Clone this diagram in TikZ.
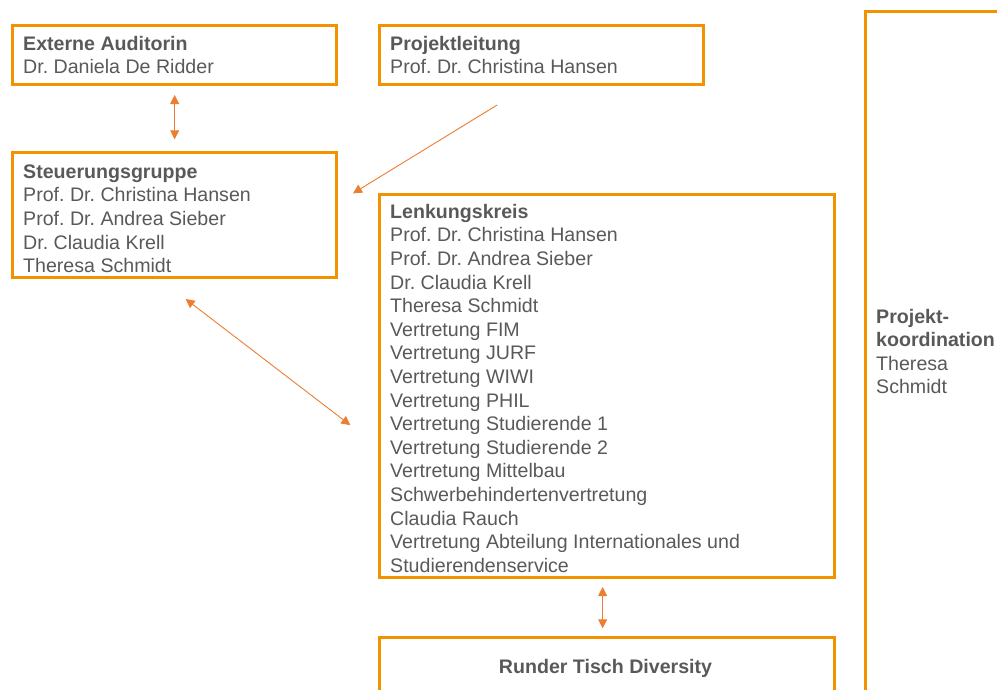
\documentclass[tikz,border=0pt]{standalone}
\usepackage{fontspec}
\setmainfont{Liberation Sans}
\usetikzlibrary{arrows.meta,positioning}
\definecolor{boxorange}{HTML}{F39200}
\definecolor{arrorange}{HTML}{ED7D31}
\definecolor{txtgray}{HTML}{595959}
\tikzset{
  orgbox/.style={draw=boxorange, line width=2.7pt, rectangle, inner sep=0pt, anchor=north west},
  orgtext/.style={anchor=north west, inner sep=0pt, align=left, text=txtgray,
     font={\fontsize{19.6}{23.6}\selectfont\frenchspacing}},
  conn/.style={draw=arrorange, line width=0.9pt},
  tipA/.style={-{Triangle[length=9pt,width=9pt]}},
  tipAB/.style={{Triangle[length=9pt,width=9pt]}-{Triangle[length=9pt,width=9pt]}},
}
\newcommand{\firststrut}{\rule{0pt}{24.5pt}}
\begin{document}
\frenchspacing
\begin{tikzpicture}[x=1pt,y=-1pt]
\useasboundingbox (0,0) rectangle (997,689);
\clip (0,0) rectangle (997,689);
% boxes
\node[orgbox, minimum width=324pt, minimum height=59pt] (ext) at (11.3,24.3) {};
\node[orgbox, minimum width=324pt, minimum height=59pt] (pl) at (378.3,24.3) {};
\node[orgbox, minimum width=324pt, minimum height=125pt] (steu) at (11.3,151.3) {};
\node[orgbox, minimum width=455pt, minimum height=383pt] (lenk) at (378.3,193.3) {};
\node[orgbox, minimum width=455pt, minimum height=80pt] (rt) at (378.3,636.3) {};
\node[orgbox, minimum width=160pt, minimum height=720pt] (koord) at (864.3,10.3) {};
% texts
\node[orgtext] (extT) at ([xshift=11.7pt,yshift=-1.3pt]ext.north west)
  {\firststrut\textbf{Externe Auditorin}\\Dr. Daniela De Ridder};
\node[orgtext] (plT) at ([xshift=11.7pt,yshift=-1.3pt]pl.north west)
  {\firststrut\textbf{Projektleitung}\\Prof. Dr. Christina Hansen};
\node[orgtext] (steuT) at ([xshift=11.7pt,yshift=-2.3pt]steu.north west)
  {\firststrut\textbf{Steuerungsgruppe}\\Prof. Dr. Christina Hansen\\Prof. Dr. Andrea Sieber\\Dr. Claudia Krell\\Theresa Schmidt};
\node[orgtext] (lenkT) at ([xshift=11.7pt,yshift=-0.3pt]lenk.north west)
  {\firststrut\textbf{Lenkungskreis}\\Prof. Dr. Christina Hansen\\Prof. Dr. Andrea Sieber\\Dr. Claudia Krell\\Theresa Schmidt\\Vertretung FIM\\Vertretung JURF\\Vertretung WIWI\\Vertretung PHIL\\Vertretung Studierende 1\\Vertretung Studierende 2\\Vertretung Mittelbau\\Schwerbehindertenvertretung\\Claudia Rauch\\Vertretung Abteilung Internationales und\\Studierendenservice};
\node[orgtext, anchor=base, font={\fontsize{19.6}{23.6}\selectfont\bfseries}] (rtT) at (605.5,673) {Runder Tisch Diversity};
\node[orgtext] (koordT) at ([xshift=11.7pt,yshift=-288pt]koord.north west)
  {\firststrut\textbf{Projekt-}\\\textbf{koordination}\\Theresa\\Schmidt};
% connectors
\coordinate (plOut) at ([xshift=-44.5pt,yshift=-19pt]pl.south);
\coordinate (steuIn) at ([xshift=15pt,yshift=21.8pt]steu.east);
\draw[conn, tipA] (plOut) -- (steuIn);
\draw[conn, tipAB] ([yshift=-9pt]ext.south) -- ([yshift=12pt]steu.north);
\coordinate (steuOut) at ([xshift=11pt,yshift=-20pt]steu.south);
\coordinate (lenkIn) at ([xshift=-28pt,yshift=-39pt]lenk.west);
\draw[conn, tipAB] (steuOut) -- (lenkIn);
\draw[conn, tipAB] ([xshift=-4.5pt,yshift=-8pt]lenk.south) -- ([xshift=-4.5pt,yshift=8pt]rt.north);
\end{tikzpicture}
\end{document}
